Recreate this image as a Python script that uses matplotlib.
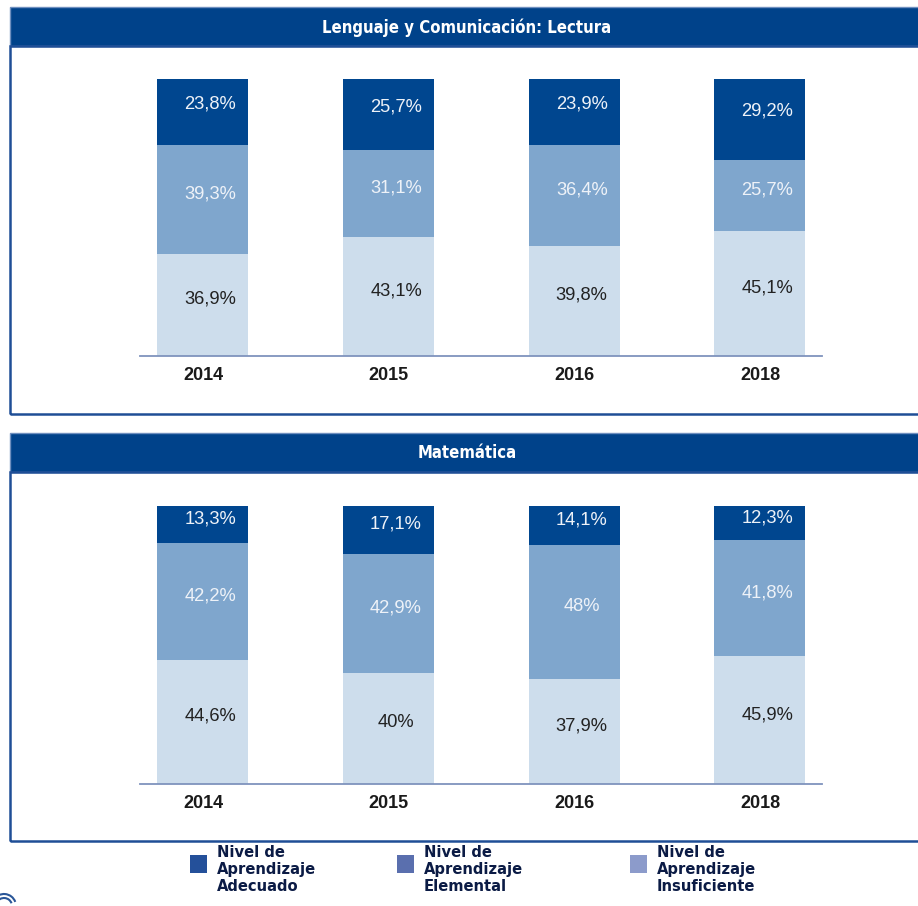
import matplotlib.pyplot as plt
from matplotlib.patches import Rectangle, Arc

# Datos
years = ['2014', '2015', '2016', '2018']
titles = ['Lenguaje y Comunicación: Lectura', 'Matemática']
insuficiente = [[36.9, 43.1, 39.8, 45.1], [44.6, 40.0, 37.9, 45.9]]
elemental = [[39.3, 31.1, 36.4, 25.7], [42.2, 42.9, 48.0, 41.8]]
adecuado = [[23.8, 25.7, 23.9, 29.2], [13.3, 17.1, 14.1, 12.3]]
legend_labels = ['Nivel de\nAprendizaje\nAdecuado', 'Nivel de\nAprendizaje\nElemental',
                 'Nivel de\nAprendizaje\nInsuficiente']

W, H = 918, 906
navy = '#00428A'
c_dark, c_mid, c_light = '#00468F', '#7FA6CD', '#CDDDEC'
leg_colors = ['#24509A', '#5A6FAE', '#8C9BCB']

fig = plt.figure(figsize=(W / 100, H / 100), dpi=100)


def fx(px):
    return px / W


def fy(py):
    return 1 - py / H


def fmt(v):
    return f'{v:g}'.replace('.', ',') + '%'


# paneles: (header top, header bottom, box bottom, eje top, eje baseline)
panels = [(7, 46, 414, 79, 356), (433, 472, 841, 506, 784)]

for i, (ht, hb, bb, at, ab) in enumerate(panels):
    # cabecera
    fig.patches.append(Rectangle((fx(10), fy(hb)), fx(W + 10), fy(ht) - fy(hb),
                                 transform=fig.transFigure, facecolor=navy,
                                 edgecolor='#6F8FBF', lw=1))
    fig.text(fx(467), fy((ht + hb) / 2 + 1), titles[i], color='white', fontsize=12,
             fontweight='bold', family='DejaVu Sans', fontstretch='condensed',
             ha='center', va='center')
    # caja
    fig.patches.append(Rectangle((fx(10), fy(bb)), fx(W + 10), fy(hb) - fy(bb),
                                 transform=fig.transFigure, facecolor='none',
                                 edgecolor='#1F4E96', lw=1.8))

    ax = fig.add_axes([fx(140), fy(ab), fx(822 - 140), fy(at) - fy(ab)])
    x = range(len(years))
    ax.bar(x, insuficiente[i], width=0.49, color=c_light)
    ax.bar(x, elemental[i], width=0.49, bottom=insuficiente[i], color=c_mid)
    bot2 = [a + b for a, b in zip(insuficiente[i], elemental[i])]
    ax.bar(x, adecuado[i], width=0.49, bottom=bot2, color=c_dark)

    for j in x:
        ax.text(j + 0.04, insuficiente[i][j] / 2 + 2, fmt(insuficiente[i][j]),
                ha='center', va='center', fontsize=13.2, color='#222222',
                family='Liberation Sans')
        ax.text(j + 0.04, insuficiente[i][j] + elemental[i][j] / 2 + 2, fmt(elemental[i][j]),
                ha='center', va='center', fontsize=13.2, color='#EEF2F8',
                family='Liberation Sans')
        ytop = bot2[j] + adecuado[i][j] / 2 + (3 if adecuado[i][j] > 20 else 2)
        ax.text(j + 0.04, ytop, fmt(adecuado[i][j]),
                ha='center', va='center', fontsize=13.2, color='#EEF2F8',
                family='Liberation Sans')

    ax.set_xlim(-0.339, 3.334)
    ax.set_ylim(0, 100)
    ax.set_xticks(list(x))
    ax.set_xticklabels(years, fontsize=13, fontweight='bold', color='#1a1a1a',
                       family='Liberation Sans')
    ax.tick_params(axis='x', length=0, pad=8)
    ax.set_yticks([])
    for s in ['top', 'left', 'right']:
        ax.spines[s].set_visible(False)
    ax.spines['bottom'].set_color('#7F93BD')
    ax.spines['bottom'].set_linewidth(1.3)

# leyenda
leg_sq = [190, 397, 630]
for k in range(3):
    fig.patches.append(Rectangle((fx(leg_sq[k]), fy(873)), fx(17), fy(855) - fy(873),
                                 transform=fig.transFigure, facecolor=leg_colors[k],
                                 edgecolor='none'))
    fig.text(fx(leg_sq[k] + 27), fy(845), legend_labels[k], color='#0B1B45',
             fontsize=11.8, fontweight='bold', family='DejaVu Sans',
             fontstretch='condensed', ha='left', va='top', linespacing=1.18)

# fragmento de logo
ax_logo = fig.add_axes([0, 0, fx(30), fy(886)])
ax_logo.set_xlim(0, 30)
ax_logo.set_ylim(0, 20)
ax_logo.axis('off')
for r in [8, 12]:
    ax_logo.add_patch(Arc((4, 0), 2 * r, 2 * r, theta1=20, theta2=150,
                          color='#2A5698', lw=1.5))

fig.savefig('out.png', dpi=100)
